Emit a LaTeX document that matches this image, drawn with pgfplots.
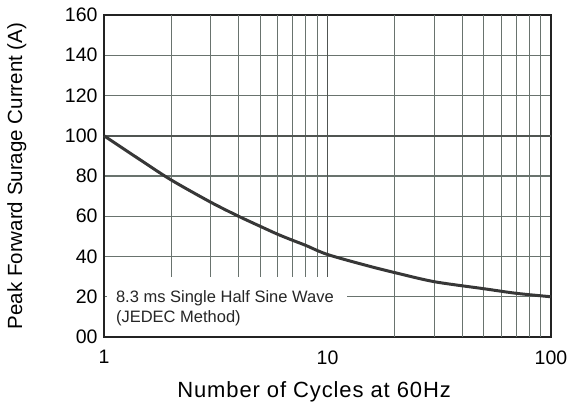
\documentclass[border=0pt]{standalone}
\usepackage{fontspec}
\setmainfont{Liberation Sans}
\usepackage{pgfplots}
\pgfplotsset{compat=1.18}
\definecolor{gridc}{RGB}{105,115,110}
\definecolor{gridd}{RGB}{80,85,82}
\definecolor{curvec}{RGB}{55,55,55}
\definecolor{axc}{RGB}{35,35,35}
\begin{document}
\begin{tikzpicture}
\begin{axis}[
 scale only axis, width=447pt, height=322pt,
 xmode=log, xmin=1, xmax=100, ymin=0, ymax=160,
 xtick={1,10,100}, xticklabels={1,10,100},
 ytick={0,20,...,160}, yticklabels={00,20,40,60,80,100,120,140,160},
 ymajorgrids=true,
 major grid style={draw=gridc, line width=1.2pt},
 major tick length=0pt, minor tick length=0pt,
 minor xtick={},
 tick label style={font=\fontsize{19.5}{22}\selectfont},
 xticklabel style={yshift=-10pt},
 yticklabel style={xshift=-3pt},
 xlabel={Number of Cycles at 60Hz},
 ylabel={Peak Forward Surage Current (A)},
 xlabel style={font=\fontsize{22}{24}\selectfont\addfontfeature{LetterSpace=4}, at={(axis description cs:0.47,-0.17)}, anchor=center},
 ylabel style={font=\fontsize{20.5}{24}\selectfont, at={(axis description cs:-0.195,0.5)}, anchor=center},
 axis line style={line width=2pt, color=axc},
 clip=false,
]
\fill[white] (axis cs:1.03,12) rectangle (axis cs:12.2,27);
\pgfplotsinvokeforeach{2,3,4,5,6,7,8,9}{\draw[gridc, line width=1pt] (axis cs:#1,30) -- (axis cs:#1,160);}
\draw[gridd, line width=1.5pt] (axis cs:10,30) -- (axis cs:10,160);
\pgfplotsinvokeforeach{20,30,40,50,60,70,80,90}{\draw[gridc, line width=1pt] (axis cs:#1,0) -- (axis cs:#1,160);}
\draw[gridd, line width=1.5pt] (axis cs:1.02,100) -- (axis cs:99.5,100);
\addplot[curvec, line width=3pt, smooth] coordinates {
(1,100) (1.5,87) (2,78) (3,67) (4,60) (5,55) (6,51) (7,48) (8,45.5)
(10,41) (15,35.5) (20,32) (30,27.5) (50,24) (70,21.7) (100,20)};
\node[anchor=base west, inner sep=0pt, font=\fontsize{16.5}{19}\selectfont, text=black!85] at (axis cs:1.13,16.9) {8.3 ms Single Half Sine Wave};
\node[anchor=base west, inner sep=0pt, font=\fontsize{16.5}{19}\selectfont, text=black!85] at (axis cs:1.13,7.3) {(JEDEC Method)};
\end{axis}
\path (-104pt,-73pt) rectangle (479pt,337pt);
\end{tikzpicture}
\end{document}
